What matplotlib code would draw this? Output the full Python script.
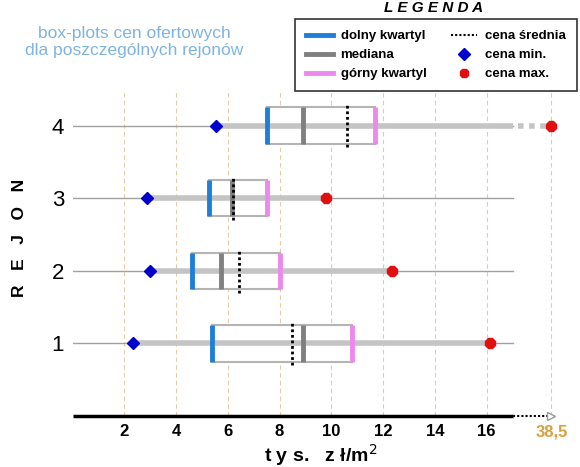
import matplotlib.pyplot as plt
from matplotlib.lines import Line2D

plt.rcParams['font.family'] = ['Liberation Sans', 'DejaVu Sans']

# dane (tys. zł/m2)
rejony = [1, 2, 3, 4]
ceny_min = [2.35, 2.99, 2.86, 5.53]
dolny_kwartyl = [5.37, 4.60, 5.26, 7.52]
mediana = [8.90, 5.75, 6.15, 8.90]
cena_srednia = [8.46, 6.44, 6.20, 10.59]
gorny_kwartyl = [10.78, 8.01, 7.50, 11.69]
ceny_max = [16.12, 12.35, 9.81, 38.5]

x_ticks = [2, 4, 6, 8, 10, 12, 14, 16]
os_koniec = 17      # koniec ciągłej osi
przerwa_pozycja = 18.5  # gdzie rysowana jest wartość 38,5

C_Q1 = '#1f7fd6'
C_MED = '#808080'
C_Q3 = '#ee88ee'
C_MIN = '#0000cc'
C_MAX = '#e01010'
C_BOX = '#b4b4b4'
C_WHISK = '#c4c4c4'
C_GRID = '#e2cca8'


def pozycja(v):
    # wartości poza osią przesuwane na przerwę osi
    return przerwa_pozycja if v > os_koniec else v


fig = plt.figure(figsize=(5.8, 4.67), dpi=100)
ax = fig.add_axes([0.125, 0.109, 0.857, 0.70])
ax.set_xlim(0, 19.2)
ax.set_ylim(0, 4.5)

for gx in x_ticks + [przerwa_pozycja]:
    ax.axvline(gx, color=C_GRID, lw=0.8, ls=(0, (4, 3)), zorder=0)

h = 0.25
for r, lo, q1, med, sr, q3, hi in zip(rejony, ceny_min, dolny_kwartyl, mediana,
                                       cena_srednia, gorny_kwartyl, ceny_max):
    hp = pozycja(hi)
    ax.plot([0, os_koniec], [r, r], color='#a0a0a0', lw=1.0, zorder=1)
    if hi > os_koniec:
        ax.plot([lo, os_koniec], [r, r], color=C_WHISK, lw=4, zorder=2,
                solid_capstyle='butt')
        ax.plot([os_koniec + 0.2, hp], [r, r], color=C_WHISK, lw=4, zorder=2,
                ls=(0, (1, 1)))
    else:
        ax.plot([lo, hp], [r, r], color=C_WHISK, lw=4, zorder=2,
                solid_capstyle='butt')
    ax.add_patch(plt.Rectangle((q1, r - h), q3 - q1, 2 * h, facecolor='white',
                               edgecolor=C_BOX, lw=1.5, zorder=3))
    ax.plot([q1 + 0.04, q3 - 0.04], [r, r], color=C_WHISK, lw=4, zorder=3.5,
            solid_capstyle='butt')
    ax.plot([q1, q1], [r - h, r + h], color=C_Q1, lw=3.5, zorder=4,
            solid_capstyle='butt')
    ax.plot([med, med], [r - h, r + h], color=C_MED, lw=3.5, zorder=4,
            solid_capstyle='butt')
    ax.plot([q3, q3], [r - h, r + h], color=C_Q3, lw=3.5, zorder=4,
            solid_capstyle='butt')
    ax.plot([sr, sr], [r - h - 0.05, r + h + 0.05], color='black', lw=2,
            ls=(0, (1, 1)), zorder=5)
    ax.plot(lo, r, marker='D', ms=6.5, color=C_MIN, zorder=6)
    ax.plot(hp, r, marker='8', ms=7.5, color=C_MAX, zorder=6)

# oś x z przerwą
for s in ['top', 'right', 'left', 'bottom']:
    ax.spines[s].set_visible(False)
ax.plot([0, os_koniec], [0, 0], color='black', lw=2.5, clip_on=False, zorder=7,
        solid_capstyle='butt')
ax.plot([os_koniec, przerwa_pozycja - 0.15], [0, 0], color='black', lw=1.5,
        ls=(0, (1, 1)), clip_on=False, zorder=7)
ax.plot(przerwa_pozycja, 0, marker='>', ms=6, mfc='white', mec='#999999',
        clip_on=False, zorder=8)

ax.set_xticks(x_ticks + [przerwa_pozycja])
ax.set_xticklabels([str(t) for t in x_ticks] + ['38,5'], fontsize=12,
                   fontweight='bold')
ax.get_xticklabels()[-1].set_color('#d9a040')
ax.tick_params(axis='x', length=0, pad=6)
ax.set_yticks(rejony)
ax.set_yticklabels([str(r) for r in rejony], fontsize=16)
ax.tick_params(axis='y', length=0, pad=6)

ax.set_xlabel('t y s.   z ł/m$^2$', fontsize=14, fontweight='bold', labelpad=2)
fig.text(0.033, 0.49, 'R   E   J   O   N', rotation=90, fontsize=12.5,
         fontweight='bold', ha='center', va='center')

fig.text(0.232, 0.91, 'box-plots cen ofertowych\ndla poszczególnych rejonów',
         fontsize=12.5, color='#7fb4e0', ha='center', va='center',
         linespacing=1.1)

uchwyty = [
    Line2D([], [], color=C_Q1, lw=3.5),
    Line2D([], [], color=C_MED, lw=3.5),
    Line2D([], [], color=C_Q3, lw=3.5),
    Line2D([], [], color='black', lw=1.5, ls=(0, (1, 1))),
    Line2D([], [], color=C_MIN, marker='D', ms=6, ls='none'),
    Line2D([], [], color=C_MAX, marker='8', ms=7, ls='none'),
]
etykiety = ['dolny kwartyl', 'mediana', 'górny kwartyl',
            'cena średnia', 'cena min.', 'cena max.']
leg = fig.legend(uchwyty, etykiety, ncol=2, loc='upper left', mode='expand',
                 bbox_to_anchor=(295 / 580, 1 - 84 / 467, 282 / 580, 65 / 467),
                 prop={'weight': 'bold', 'size': 9.5}, frameon=True,
                 fancybox=False, edgecolor='black', handlelength=2.0,
                 labelspacing=0.5, borderpad=0.85, handletextpad=0.6,
                 borderaxespad=0)
leg.get_frame().set_linewidth(1.2)
fig.text(0.748, 0.983, 'L E G E N D A', fontsize=11, fontweight='bold',
         fontstyle='italic', ha='center', va='center')

fig.savefig('out.png', dpi=100)
